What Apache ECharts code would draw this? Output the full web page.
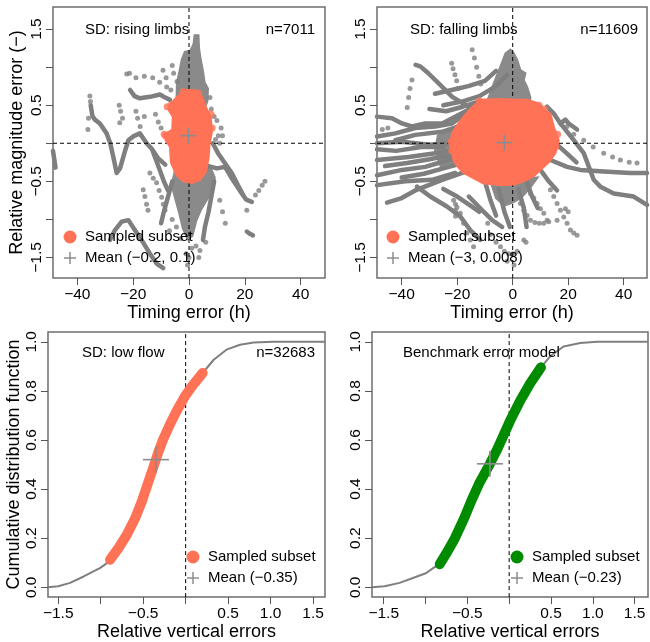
<!DOCTYPE html>
<html>
<head>
<meta charset="utf-8">
<script src="https://cdn.jsdelivr.net/npm/echarts@6/dist/echarts.min.js"></script>
<style>
html,body{margin:0;padding:0;background:#fff;}
#chart{width:650px;height:642px;}
</style>
</head>
<body>
<div id="chart"></div>
<script>
// ---------- Rising limbs: timing error (h) vs relative magnitude error ----------
const risingTracks = [
  [[-35.2,0.5],[-34.6,0.36],[-33.7,0.31],[-31.9,0.26],[-29.5,0.13],[-28.2,0.0],[-27.1,-0.18],[-25.9,-0.39],[-24.7,-0.33],[-22.9,-0.1],[-21.7,0.04],[-20,0.09],[-17.6,0.13],[-15.2,0.0],[-13.4,-0.07],[-11,-0.2],[-8.5,-0.28]],
  [[-21.1,0.7],[-19.5,0.62],[-17.6,0.59],[-14,0.61],[-10.4,0.64],[-8.5,0.6],[-6.8,0.57]],
  [[7,-0.3],[10,-0.33],[12.9,-0.31],[15.5,-0.47],[18.9,-0.66],[20.5,-0.74],[22.5,-0.77]],
  [[8.5,0.0],[10.4,-0.13],[13,-0.27],[15.3,-0.39],[17.5,-0.55],[19.4,-0.68]],
  [[9,-0.5],[8,-0.7],[7,-0.9],[5.7,-1.1],[5,-1.27]],
  [[-28.3,-1.27],[-26.5,-1.14],[-24.1,-1.03],[-21.7,-1.01],[-19.4,-1.14],[-17,-1.27],[-14,-1.45],[-11.6,-1.58],[-9.2,-1.64]],
  [[-48.7,-0.1],[-48.2,-0.22],[-47.8,-0.32]],
  [[20.7,-1.16],[21.8,-1.19],[22.9,-1.21]],
  [[-6,-0.5],[-7.5,-0.7],[-9,-0.9],[-10,-1.05]],
  [[-13,-0.1],[-11,-0.3],[-9,-0.5],[-7.5,-0.62]]
];
const risingDots = [
  [-35.5,0.62],[-35.3,0.55],[-36,0.33],[-36.2,0.18],[-22.3,0.91],[-21.3,0.92],
  [-25,0.5],[-24.5,0.42],[-23.8,0.33],[-24.8,0.27],[-19,0.42],[-18.4,0.33],[-17.5,0.22],[-16,0.35],
  [-9.3,0.96],[-8.2,0.86],[-4.3,0.81],[-12,0.38],[-11,0.28],[-10,0.2],
  [-19,0.86],[-16,0.88],[-13,0.86],[-10.5,0.8],[-8,0.74],[-6.5,0.7],[-5.5,0.92],[-6,1.02],
  [-14,-0.39],[-12.8,-0.46],[-11.6,-0.52],[-10.7,-0.62],[-9.8,-0.71],[-9.2,-0.8],[-8.6,-0.88],
  [-16.4,-0.61],[-15.8,-0.7],[-15.2,-0.8],[-14.7,-0.88],
  [23.8,-0.68],[25,-0.62],[26.2,-0.55],[27.2,-0.5],[20.7,-0.88],
  [3.9,-1.41],[3.5,-1.5],[-1,-1.45],[0,-1.5],[-0.5,-1.6],[1,-1.38],[-3,-1.25],[-4.5,-1.1],[2.5,-1.35],
  [9.5,0.05],[10.5,0.1],[11.5,0.2],[12,0.1],[10,0.3],[11,0.0],[8,0.45],[9,0.35],[7.5,0.6],
  [11,-0.75],[12,-0.9],[13,-1.05],[6,-1.3],[-6,-1.0],[-7,-1.15]
];
const risingDense = [
  [[-4.5,0.55],[-4.3,0.8],[-3.4,0.95],[-2.6,1.1],[-1.5,1.2],[0.5,1.22],[1.6,1.3],[2.0,1.42],[3.4,1.42],[3.6,1.25],[4.2,1.1],[5.0,0.95],[5.6,0.8],[6.8,0.72],[6.6,0.55],[5.5,0.45],[0,0.6]],
  [[-5,-0.35],[-6.2,-0.55],[-5,-0.72],[-3.5,-0.92],[-2.2,-1.12],[-0.5,-1.26],[1.2,-1.22],[2.6,-1.02],[4.2,-0.88],[6.5,-0.74],[8.8,-0.6],[9.2,-0.45],[7.5,-0.3],[0,-0.4]]
];
const risingSample = [[-4,0.62],[-1,0.7],[2,0.7],[4.5,0.62],[6,0.48],[7.8,0.35],[8.2,0.15],[7.4,0.0],[7,-0.2],[6,-0.38],[4,-0.48],[1,-0.52],[-2,-0.5],[-4.5,-0.42],[-6.5,-0.25],[-6.8,-0.05],[-8.5,0.05],[-8.6,0.12],[-6,0.18],[-5.8,0.35],[-7.5,0.45],[-6.5,0.52]];
const risingSampleDots = [[-7.8,0.48],[-8.4,0.1],[-8.9,0.12],[7.9,0.38],[8.3,0.2],[-6.5,0.5],[-2.2,0.68],[3.5,0.66]];
const risingMean = [-0.2, 0.1];

// ---------- Falling limbs ----------
const fallingTracks = [
  [[-35,1.03],[-33.3,1.01],[-30.4,0.92],[-25.4,0.74],[-21.8,0.61],[-18.2,0.53],[-13.4,0.44],[-8.8,0.39]],
  [[-48.9,0.35],[-43.5,0.33],[-39.9,0.26],[-36.3,0.22],[-31.5,0.26],[-25.4,0.26],[-20.6,0.35],[-15.9,0.44]],
  [[-48.9,0.09],[-42.3,0.13],[-35.1,0.2],[-27.9,0.22],[-21.9,0.26],[-18.3,0.35],[-13.4,0.44],[-9,0.5]],
  [[-42.3,0.04],[-35.1,0.11],[-25.5,0.15],[-19.5,0.22]],
  [[-25,0.5],[-18,0.55],[-12,0.62],[-6,0.75],[-2,0.9]],
  [[-28,0.65],[-22,0.7],[-16,0.75],[-10,0.82],[-6,0.95]],
  [[-30,0.45],[-24,0.42],[-18,0.48],[-12,0.55]],
  [[-48.9,0.0],[-40,0.02],[-30,-0.02],[-22,0.0]],
  [[-48.9,-0.08],[-42,-0.1],[-33,-0.05],[-25,-0.05]],
  [[-48.9,-0.22],[-37.5,-0.18],[-27.9,-0.13],[-21.9,-0.09]],
  [[-46,-0.3],[-38,-0.26],[-30,-0.21],[-22,-0.15]],
  [[-48.9,-0.42],[-39.9,-0.35],[-31.5,-0.31],[-23.1,-0.22],[-18.3,-0.18]],
  [[-48.9,-0.55],[-38.7,-0.5],[-29.1,-0.48],[-20.7,-0.39]],
  [[-40,-0.45],[-32,-0.4],[-25,-0.33],[-20,-0.28]],
  [[-45.3,-0.78],[-40,-0.72],[-35.1,-0.62],[-25.4,-0.48],[-18.2,-0.39],[-11,-0.31]],
  [[-34.5,-0.57],[-29.7,-0.7],[-23.7,-0.83],[-18.9,-0.96],[-15.3,-1.14],[-11.7,-1.27]],
  [[-25,-0.6],[-20,-0.7],[-16,-0.8],[-12,-0.9]],
  [[-15.8,-0.7],[-11,-0.88],[-7.4,-1.01],[-3.8,-1.1]],
  [[17.2,0.26],[22,0.04],[25.6,-0.13],[29.2,-0.48],[31.6,-0.57],[36.4,-0.66],[43.6,-0.7],[48.4,-0.81]],
  [[13.6,-0.22],[19.6,-0.31],[24.4,-0.35],[32.8,-0.37],[42.4,-0.39],[48.4,-0.39]],
  [[12.4,0.48],[14.8,0.39],[17.2,0.26],[19,0.31],[20.2,0.26],[23.2,0.18]],
  [[14,0.05],[17,-0.05],[20,-0.15],[23,-0.25]],
  [[-10,-0.5],[-8,-0.75],[-6,-0.95]],
  [[-5,-0.6],[-3,-0.9],[-1,-1.1]],
  [[2,-0.6],[4,-0.85],[5,-1.1]],
  [[5,-0.5],[7,-0.7],[9,-0.85]],
  [[10,-0.35],[13,-0.5],[16,-0.62]]
];
const fallingDots = [
  [-22,1.05],[-21.5,0.98],[-20.8,0.9],[-20.2,0.82],[-19.8,0.72],
  [-14.6,1.23],[-13.8,1.12],[-13,1.0],[-12.2,0.88],[-11.5,0.78],
  [-38,0.47],[-37.5,0.6],[-37,0.72],[-36.3,0.83],
  [19.6,0.22],[22,0.12],[25.6,0.04],[29,-0.05],[32.8,-0.13],[36,-0.18],[38.8,-0.22],[42,-0.25],[44.8,-0.26],
  [13.6,-0.61],[14.8,-0.7],[16,-0.79],[17.2,-0.88],[18.4,-0.97],[19.6,-1.05],[20.8,-1.14],[22,-1.18],[23.2,-1.21],
  [6.4,-0.66],[7.6,-0.72],[8.8,-0.79],[10,-0.86],[11.2,-0.92],[12.4,-1.01],
  [2.8,-0.79],[4,-0.88],[5.2,-0.95],[6.4,-1.01],[8,-1.04],[9.6,-1.05],[11.2,-1.05],[13,-1.03],[16,-1.01],
  [4,-1.27],[4.8,-1.3],[19,-0.86],[20,-0.9],
  [-21.3,-0.75],[-20.1,-0.84],[-18.9,-0.92],[-17.7,-1.05],[-16.5,-1.18],[-15.3,-1.27],[-14.1,-1.36],
  [-4.4,-1.36],[-3,-1.42],[-1.5,-1.45],[0,-1.45],[1.6,-1.42],[-2,-1.55],[0.5,-1.6],
  [9,0.5],[10,0.48],[11,0.42],[-20.6,-0.8],[-20.6,-0.88],[-20.6,-0.96],
  [-47,0.18],[-45,0.2],[-8,-1.2],[-6,-1.3],[-9,-1.05]
];
const fallingDense = [
  [[-9.2,0.55],[-6.8,0.79],[-4.4,1.01],[-2.6,1.18],[-0.8,1.23],[0.4,1.18],[1.6,1.1],[2.8,0.96],[4.6,0.92],[4,0.83],[5.2,0.74],[6.4,0.6],[6,0.5]],
  [[-8,-0.5],[-6,-0.72],[-3,-0.82],[0,-0.78],[3,-0.72],[6,-0.6],[9,-0.45]],
  [[-22,0.2],[-27,0.1],[-28,-0.1],[-26,-0.3],[-21,-0.3]]
];
const fallingSample = [[-11.7,0.57],[-5,0.58],[2,0.57],[5.2,0.57],[8.8,0.53],[11,0.45],[13.6,0.39],[14.8,0.22],[16.6,0.04],[15.4,-0.13],[13,-0.25],[11.2,-0.31],[8,-0.42],[5.2,-0.48],[1,-0.54],[-3.2,-0.55],[-7,-0.54],[-10.5,-0.53],[-14,-0.46],[-17.7,-0.39],[-20,-0.3],[-21.3,-0.22],[-22.5,-0.04],[-21.9,0.13],[-20,0.24],[-17.7,0.35],[-15,0.46]];
const fallingSampleDots = [[-22.3,0.02],[-22,-0.1],[16.2,0.12],[15.5,-0.05],[9.5,0.5],[11.5,0.45],[-12,0.56]];
const fallingMean = [-3, 0.008];

// ---------- Low flow: empirical CDF of relative vertical errors ----------
const lowFlowLowerTail = [[-1.62,0.0],[-1.5,0.004],[-1.36,0.018],[-1.2,0.044],[-1.01,0.078],[-0.95,0.092]];
const lowFlowSampled = [[-0.89,0.112],[-0.792,0.159],[-0.694,0.213],[-0.596,0.28],[-0.518,0.348],[-0.439,0.429],[-0.38,0.489],[-0.322,0.55],[-0.263,0.604],[-0.184,0.664],[-0.106,0.718],[-0.008,0.779],[0.09,0.826],[0.2,0.873]];
const lowFlowUpperTail = [[0.33,0.927],[0.48,0.968],[0.64,0.988],[0.8,0.997],[1.03,1.0],[1.64,1.0]];
const lowFlowMean = [-0.35, 0.52];

// ---------- Benchmark error model ----------
const benchLowerTail = [[-1.64,0.0],[-1.49,0.004],[-1.31,0.018],[-1.15,0.038],[-0.99,0.058],[-0.91,0.078]];
const benchSampled = [[-0.83,0.094],[-0.75,0.139],[-0.65,0.199],[-0.54,0.28],[-0.45,0.354],[-0.36,0.422],[-0.23,0.503],[-0.15,0.557],[-0.07,0.617],[0.02,0.685],[0.13,0.759],[0.25,0.83],[0.38,0.896]];
const benchUpperTail = [[0.49,0.941],[0.65,0.981],[0.85,0.995],[1.05,1.0],[1.66,1.0]];
const benchMean = [-0.23, 0.503];

// ---------- tick values ----------
const timingTicks = [-40,-20,0,20,40];
const magnitudeTicks = [-1.5,-1,-0.5,0,0.5,1,1.5];
const magnitudeLabels = [-1.5,-0.5,0.5,1.5];
const errorTicks = [-1.5,-1,-0.5,0,0.5,1,1.5];
const errorLabels = [-1.5,-0.5,0.5,1.0,1.5];
const cdfTicks = [0,0.2,0.4,0.6,0.8,1.0];

const GREY = '#7f7f7f';
const CORAL = '#ff7256';
const GREEN = '#008b00';
const CROSS = '#8c8c8c';
const FONT = '"Liberation Sans", Arial, Helvetica, sans-serif';

const fmt = d => v => (v < 0 ? '\u2212' : '') + Math.abs(v).toFixed(d);

function axis(gridIndex, min, max, ticks, labels, dec, name, gap, isY) {
  return {
    type: 'value', gridIndex, min, max, name, nameLocation: 'middle', nameGap: gap,
    nameTextStyle: { fontFamily: FONT, fontSize: 18, color: '#000' },
    axisLine: { show: false, onZero: false },
    splitLine: { show: false },
    axisTick: { show: true, inside: false, length: 7, customValues: ticks, lineStyle: { color: '#555', width: 1 } },
    axisLabel: {
      show: true, customValues: labels, formatter: fmt(dec), rotate: isY ? 90 : 0,
      margin: isY ? 8 : 9, fontFamily: FONT, fontSize: 15.5, color: '#000'
    }
  };
}

function polygonSeries(idx, poly, color, z) {
  return {
    type: 'custom', xAxisIndex: idx, yAxisIndex: idx, z, silent: true, clip: true,
    data: [[poly[0][0], poly[0][1]]],
    renderItem: (params, api) => ({
      type: 'polygon',
      shape: { points: poly.map(p => api.coord(p)) },
      style: { fill: color, stroke: color, lineWidth: 2 }
    })
  };
}

function crossSeries(idx, pt, half) {
  return {
    type: 'custom', xAxisIndex: idx, yAxisIndex: idx, z: 6, silent: true,
    data: [pt],
    renderItem: (params, api) => {
      const c = api.coord([api.value(0), api.value(1)]);
      const st = { stroke: CROSS, lineWidth: 1.6 };
      return { type: 'group', children: [
        { type: 'line', shape: { x1: c[0] - half, y1: c[1], x2: c[0] + half, y2: c[1] }, style: st },
        { type: 'line', shape: { x1: c[0], y1: c[1] - half, x2: c[0], y2: c[1] + half }, style: st }
      ]};
    }
  };
}

function refLine(idx, data) {
  return {
    type: 'line', xAxisIndex: idx, yAxisIndex: idx, data, z: 4, silent: true,
    symbol: 'none', lineStyle: { color: '#000', width: 1, type: [4, 3] }
  };
}

function scatterPanel(idx, tracks, dots, dense, sample, sampleDots, mean, xr, yr) {
  const s = [];
  dense.forEach(p => s.push(polygonSeries(idx, p, '#8a8a8a', 2)));
  tracks.forEach(t => s.push({
    type: 'line', xAxisIndex: idx, yAxisIndex: idx, data: t, z: 3, silent: true,
    symbol: 'none', lineStyle: { color: GREY, width: 4.5, cap: 'round', join: 'round' }
  }));
  s.push({ type: 'scatter', xAxisIndex: idx, yAxisIndex: idx, data: dots, z: 3, silent: true,
    symbolSize: 5, itemStyle: { color: GREY } });
  s.push(refLine(idx, [[0, yr[0]], [0, yr[1]]]));
  s.push(refLine(idx, [[xr[0], 0], [xr[1], 0]]));
  s.push(polygonSeries(idx, sample, CORAL, 5));
  s.push({ type: 'scatter', xAxisIndex: idx, yAxisIndex: idx, data: sampleDots, z: 5, silent: true,
    symbolSize: 7, itemStyle: { color: CORAL } });
  s.push(crossSeries(idx, mean, 8));
  return s;
}

function cdfPanel(idx, lower, sampled, upper, color, mean, yr) {
  return [
    { type: 'line', xAxisIndex: idx, yAxisIndex: idx, data: [...lower, ...sampled, ...upper], z: 3,
      silent: true, symbol: 'none', lineStyle: { color: GREY, width: 2 } },
    refLine(idx, [[0, yr[0]], [0, yr[1]]]),
    { type: 'line', xAxisIndex: idx, yAxisIndex: idx, data: sampled, z: 5, silent: true,
      symbol: 'none', lineStyle: { color, width: 10, cap: 'round', join: 'round' } },
    crossSeries(idx, mean, 13)
  ];
}

const TX = [-48.7, 48.7], TX2 = [-48.9, 48.4], TY = [-1.77, 1.79];
const BX = [-1.62, 1.64], BX2 = [-1.64, 1.66], BY = [-0.04, 1.04];

function txt(x, y, text, align) {
  return { type: 'text', x, y, style: { text, fontFamily: FONT, fontSize: 15, fill: '#000',
    textAlign: align || 'left', textVerticalAlign: 'middle' }, z: 10 };
}
function legend(x, y, label1, label2, color) {
  return [
    { type: 'circle', shape: { cx: x, cy: y, r: 6.5 }, style: { fill: color }, z: 10 },
    { type: 'line', shape: { x1: x - 6, y1: y + 21, x2: x + 6, y2: y + 21 }, style: { stroke: CROSS, lineWidth: 1.5 }, z: 10 },
    { type: 'line', shape: { x1: x, y1: y + 15, x2: x, y2: y + 27 }, style: { stroke: CROSS, lineWidth: 1.5 }, z: 10 },
    txt(x + 15, y, label1),
    txt(x + 15, y + 21, label2)
  ];
}

const chart = echarts.init(document.getElementById('chart'), null, { renderer: 'canvas' });
const gridStyle = { show: true, borderColor: '#6e6e6e', borderWidth: 1.5, backgroundColor: 'transparent', containLabel: false };
chart.setOption({
  animation: false,
  backgroundColor: '#fff',
  grid: [
    Object.assign({ left: 53, top: 7, width: 272, height: 271 }, gridStyle),
    Object.assign({ left: 377, top: 7, width: 270, height: 271 }, gridStyle),
    Object.assign({ left: 48, top: 332, width: 277, height: 267 }, gridStyle),
    Object.assign({ left: 372, top: 332, width: 276, height: 267 }, gridStyle)
  ],
  xAxis: [
    axis(0, TX[0], TX[1], timingTicks, timingTicks, 0, 'Timing error (h)', 25, false),
    axis(1, TX2[0], TX2[1], timingTicks, timingTicks, 0, 'Timing error (h)', 25, false),
    axis(2, BX[0], BX[1], errorTicks, errorLabels, 1, 'Relative vertical errors', 25, false),
    axis(3, BX2[0], BX2[1], errorTicks, errorLabels, 1, 'Relative vertical errors', 25, false)
  ],
  yAxis: [
    axis(0, TY[0], TY[1], magnitudeTicks, magnitudeLabels, 1, 'Relative magnitude error (\u2212)', 27, true),
    axis(1, TY[0], TY[1], magnitudeTicks, magnitudeLabels, 1, '', 27, true),
    axis(2, BY[0], BY[1], cdfTicks, cdfTicks, 1, 'Cumulative distribution function', 23, true),
    axis(3, BY[0], BY[1], cdfTicks, cdfTicks, 1, '', 23, true)
  ],
  series: [
    ...scatterPanel(0, risingTracks, risingDots, risingDense, risingSample, risingSampleDots, risingMean, TX, TY),
    ...scatterPanel(1, fallingTracks, fallingDots, fallingDense, fallingSample, fallingSampleDots, fallingMean, TX2, TY),
    ...cdfPanel(2, lowFlowLowerTail, lowFlowSampled, lowFlowUpperTail, CORAL, lowFlowMean, BY),
    ...cdfPanel(3, benchLowerTail, benchSampled, benchUpperTail, GREEN, benchMean, BY)
  ],
  graphic: [
    txt(85, 30, 'SD: rising limbs'), txt(315, 30, 'n=7011', 'right'),
    txt(410, 30, 'SD: falling limbs'), txt(638, 30, 'n=11609', 'right'),
    txt(82, 353, 'SD: low flow'), txt(315, 353, 'n=32683', 'right'),
    txt(403, 353, 'Benchmark error model'),
    ...legend(70, 237, 'Sampled subset', 'Mean (\u22120.2, 0.1)', CORAL),
    ...legend(393, 237, 'Sampled subset', 'Mean (\u22123, 0.008)', CORAL),
    ...legend(193, 557, 'Sampled subset', 'Mean (\u22120.35)', CORAL),
    ...legend(517, 557, 'Sampled subset', 'Mean (\u22120.23)', GREEN)
  ]
});
</script>
</body>
</html>
